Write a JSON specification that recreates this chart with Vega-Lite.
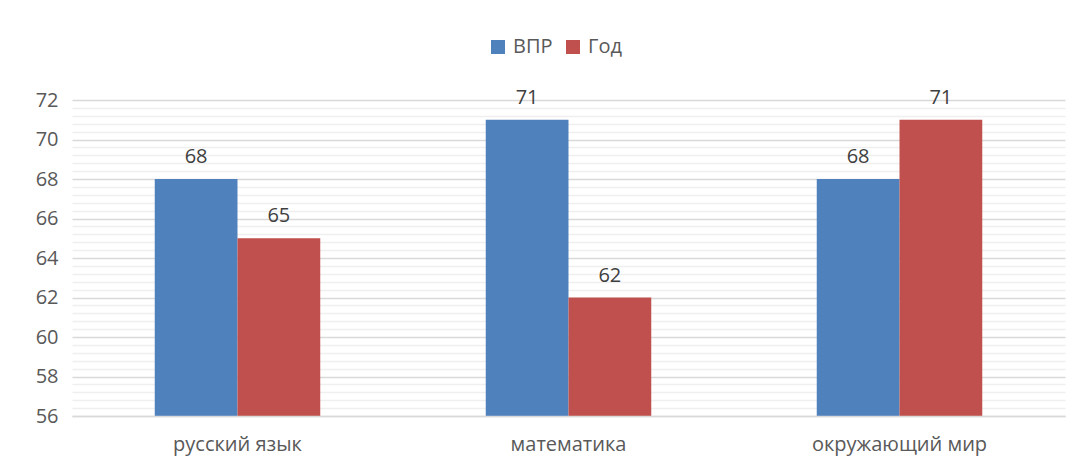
{
  "$schema": "https://vega.github.io/schema/vega-lite/v6.json",
  "width": 993,
  "height": 316,
  "autosize": {"type": "none"},
  "padding": {"left": 72, "top": 100, "right": 18, "bottom": 56},
  "background": "white",
  "config": {
    "view": {"stroke": null},
    "font": "Open Sans",
    "axis": {"labelColor": "#595959", "labelFont": "Open Sans", "labelFontSize": 20}
  },
  "data": {
    "values": [
      {"subject": "русский язык", "series": "ВПР", "value": 68},
      {"subject": "русский язык", "series": "Год", "value": 65},
      {"subject": "математика", "series": "ВПР", "value": 71},
      {"subject": "математика", "series": "Год", "value": 62},
      {"subject": "окружающий мир", "series": "ВПР", "value": 68},
      {"subject": "окружающий мир", "series": "Год", "value": 71}
    ]
  },
  "encoding": {
    "x": {
      "field": "subject", "type": "nominal", "sort": null, "title": null,
      "scale": {"paddingInner": 0.5, "paddingOuter": 0.25},
      "axis": {"labelAngle": 0, "ticks": false, "domainColor": "#d9d9d9", "domainWidth": 1.5, "labelPadding": 18, "grid": false, "zindex": 1}
    },
    "xOffset": {"field": "series", "type": "nominal", "sort": ["ВПР", "Год"]}
  },
  "layer": [
    {
      "mark": {"type": "bar", "opacity": 0, "clip": true},
      "encoding": {
        "y": {
          "field": "value", "type": "quantitative", "title": null,
          "scale": {"domain": [56, 72], "nice": false, "zero": false},
          "axis": {
            "orient": "left",
            "values": [56.4, 56.8, 57.2, 57.6, 58.4, 58.8, 59.2, 59.6, 60.4, 60.8, 61.2, 61.6, 62.4, 62.8, 63.2, 63.6, 64.4, 64.8, 65.2, 65.6, 66.4, 66.8, 67.2, 67.6, 68.4, 68.8, 69.2, 69.6, 70.4, 70.8, 71.2, 71.6],
            "labels": false, "ticks": false, "domain": false,
            "grid": true, "gridColor": "#efefef", "gridWidth": 1.5
          }
        }
      }
    },
    {
      "mark": {"type": "bar", "clip": true},
      "encoding": {
        "y": {
          "field": "value", "type": "quantitative", "title": null,
          "scale": {"domain": [56, 72], "nice": false, "zero": false},
          "axis": {
            "orient": "left",
            "values": [56, 58, 60, 62, 64, 66, 68, 70, 72],
            "ticks": false, "domain": false, "labelPadding": 14,
            "grid": true, "gridColor": "#d9d9d9", "gridWidth": 1.5
          }
        },
        "color": {
          "field": "series", "type": "nominal", "sort": ["ВПР", "Год"], "title": null,
          "scale": {"domain": ["ВПР", "Год"], "range": ["#4F81BD", "#C0504D"]},
          "legend": {
            "orient": "none", "direction": "horizontal", "legendX": 416, "legendY": -63,
            "symbolType": "square", "symbolSize": 196, "symbolStrokeWidth": 0,
            "labelFontSize": 20, "labelColor": "#595959", "labelFont": "Open Sans",
            "labelOffset": 5, "columnPadding": 10
          }
        }
      }
    },
    {
      "mark": {"type": "text", "baseline": "bottom", "dy": -12, "fontSize": 20, "color": "#404040", "font": "Open Sans"},
      "encoding": {
        "y": {"field": "value", "type": "quantitative", "scale": {"domain": [56, 72], "nice": false, "zero": false}, "axis": null},
        "text": {"field": "value", "type": "quantitative"}
      }
    }
  ],
  "resolve": {"axis": {"y": "independent"}}
}
